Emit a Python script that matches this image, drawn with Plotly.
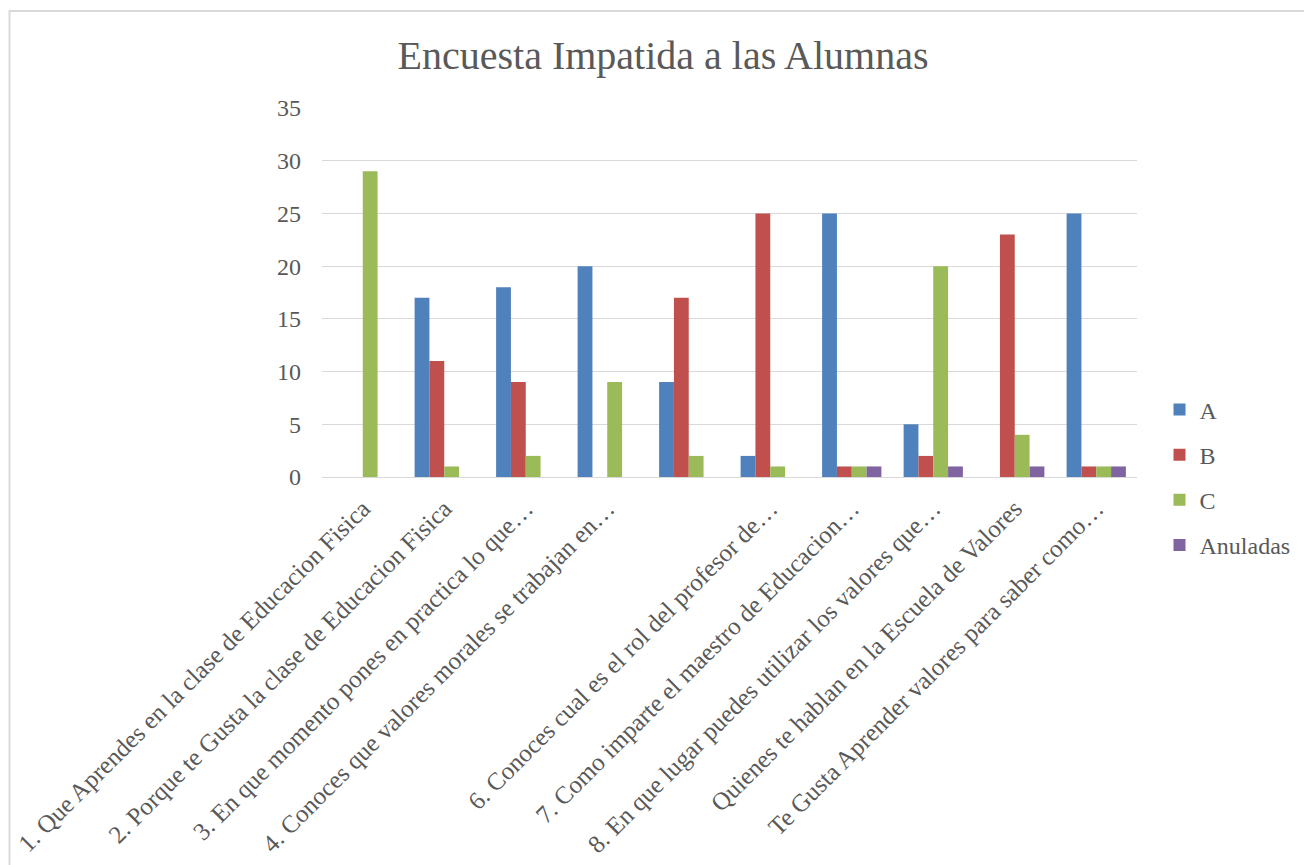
import plotly.graph_objects as go

categories = [
    "1. Que Aprendes en la clase de Educacion Fisica",
    "2. Porque te Gusta la clase de Educacion Fisica",
    "3. En que momento pones en practica lo que…",
    "4. Conoces que valores morales se trabajan en…",
    " ",
    "6. Conoces cual es el rol del profesor de…",
    "7. Como imparte el maestro de Educacion…",
    "8. En que lugar puedes utilizar los valores que…",
    "Quienes te hablan en la Escuela de Valores",
    "Te Gusta Aprender valores para saber como…",
]
serie_a = [0, 17, 18, 20, 9, 2, 25, 5, 0, 25]
serie_b = [0, 11, 9, 0, 17, 25, 1, 2, 23, 1]
serie_c = [29, 1, 2, 9, 2, 1, 1, 20, 4, 1]
serie_anuladas = [0, 0, 0, 0, 0, 0, 1, 1, 1, 1]
series_names = ["A", "B", "C", "Anuladas"]
y_ticks = [0, 5, 10, 15, 20, 25, 30, 35]

colors = ["#4F81BD", "#C0504D", "#9BBB59", "#8064A2"]
FONT = "Liberation Serif"
TXT = "#595959"

W, H = 1304, 857  # page has an 8px body margin

fig = go.Figure()
for name, vals, col in zip(series_names, [serie_a, serie_b, serie_c, serie_anuladas], colors):
    fig.add_trace(go.Bar(name=name, x=categories, y=vals, marker_color=col,
                         marker_line_width=0, legendgroup=name))

fig.update_layout(
    width=W, height=H,
    paper_bgcolor="white", plot_bgcolor="white",
    margin=dict(l=314, r=175, t=100, b=388, autoexpand=False),
    barmode="group", bargap=1.5 / 5.5, bargroupgap=0,
    title=dict(text="Encuesta Impatida a las Alumnas", x=(663 - 8) / W, xref="container",
               xanchor="center",
               y=1 - 47 / H, yref="container", yanchor="middle",
               font=dict(family=FONT, size=40, color=TXT)),
    font=dict(family=FONT, color=TXT, size=24),
    legend=dict(x=1.0276, xanchor="left", y=0.243, yanchor="top",
                font=dict(family=FONT, size=24, color=TXT),
                tracegroupgap=11, itemwidth=30),
    showlegend=True,
    xaxis=dict(type="category", tickangle=-45, showline=True, linecolor="#D9D9D9",
               linewidth=1, showgrid=False, ticks="", ticklabelstandoff=6,
               tickfont=dict(family=FONT, size=25, color=TXT)),
    yaxis=dict(range=[0, 35], tickvals=y_ticks, showgrid=True, gridcolor="#D9D9D9",
               gridwidth=1, zeroline=False, showline=False, ticks="",
               ticklabelstandoff=20,
               tickfont=dict(family=FONT, size=24, color=TXT)),
    shapes=[dict(type="rect", xref="paper", yref="paper",
                 x0=(9.5 - 322) / 815, x1=(1330 - 322) / 815,
                 y0=(477 - 890) / 369, y1=(477 - 11) / 369,
                 line=dict(color="#D9D9D9", width=2), fillcolor="rgba(0,0,0,0)",
                 layer="below")],
)

fig.write_html("out.html")
